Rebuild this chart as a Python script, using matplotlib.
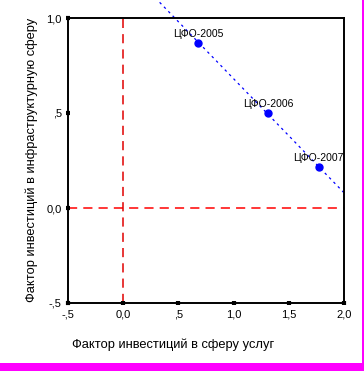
import numpy as np
import matplotlib
matplotlib.use("Agg")
from matplotlib import pyplot as plt
from matplotlib.patches import Rectangle

# factor scores
labels = ["ЦФО-2005", "ЦФО-2006", "ЦФО-2007"]
x_services = [0.68, 1.31, 1.77]
y_infra = [0.87, 0.50, 0.215]

x_ticks = [-0.5, 0.0, 0.5, 1.0, 1.5, 2.0]
x_ticklabels = ["-,5", "0,0", ",5", "1,0", "1,5", "2,0"]
y_ticks = [-0.5, 0.0, 0.5, 1.0]
y_ticklabels = ["-,5", "0,0", ",5", "1,0"]

x_title = "Фактор инвестиций в сферу услуг"
y_title = "Фактор инвестиций в инфраструктурную сферу"

plt.rcParams['font.family'] = ['Liberation Sans', 'DejaVu Sans']

fig = plt.figure(figsize=(3.64, 3.71), dpi=100)
ax = fig.add_axes([68/364, 68/371, 276/364, 285/371])

# reference lines at zero
ax.axhline(0, color="#ff0000", lw=1.1, dashes=(6, 4), zorder=1)
ax.axvline(0, color="#e00000", lw=1.1, dashes=(6, 4), zorder=1)

# linear fit (runs past the top of the frame like the original)
k, b = np.polyfit(x_services, y_infra, 1)
xs = np.array([0.33, 2.0])
ax.plot(xs, k*xs + b, color="#0000ff", lw=0.9, dashes=(2, 3), clip_on=False, zorder=2)

ax.plot(x_services, y_infra, "o", color="#0000ff", ms=5, zorder=3)
for lab, xv, yv in zip(labels, x_services, y_infra):
    ax.annotate(lab, (xv, yv), xytext=(0, 3), textcoords="offset points",
                ha="center", va="bottom", fontsize=7.5)

ax.set_xlim(-0.5, 2.0)
ax.set_ylim(-0.5, 1.0)
ax.set_xticks(x_ticks)
ax.set_xticklabels(x_ticklabels)
ax.set_yticks(y_ticks)
ax.set_yticklabels(y_ticklabels)
ax.tick_params(direction="inout", length=3, width=3, labelsize=8, pad=3)
for s in ax.spines.values():
    s.set_linewidth(1.4)

fig.text(173/364, 1 - 345/371, x_title, ha="center", va="center", fontsize=9.3)
fig.text(32/364, 1 - 160/371, y_title, ha="center", va="center", rotation=90, fontsize=9.3)

# magenta frame bits
fig.add_artist(Rectangle((0, 0), 1, 8/371, transform=fig.transFigure, color="#ff00ff", lw=0))
fig.add_artist(Rectangle((362/364, 0), 1.5/364, 1, transform=fig.transFigure, color="#ff00ff", lw=0))

plt.savefig("out.png", dpi=100)
